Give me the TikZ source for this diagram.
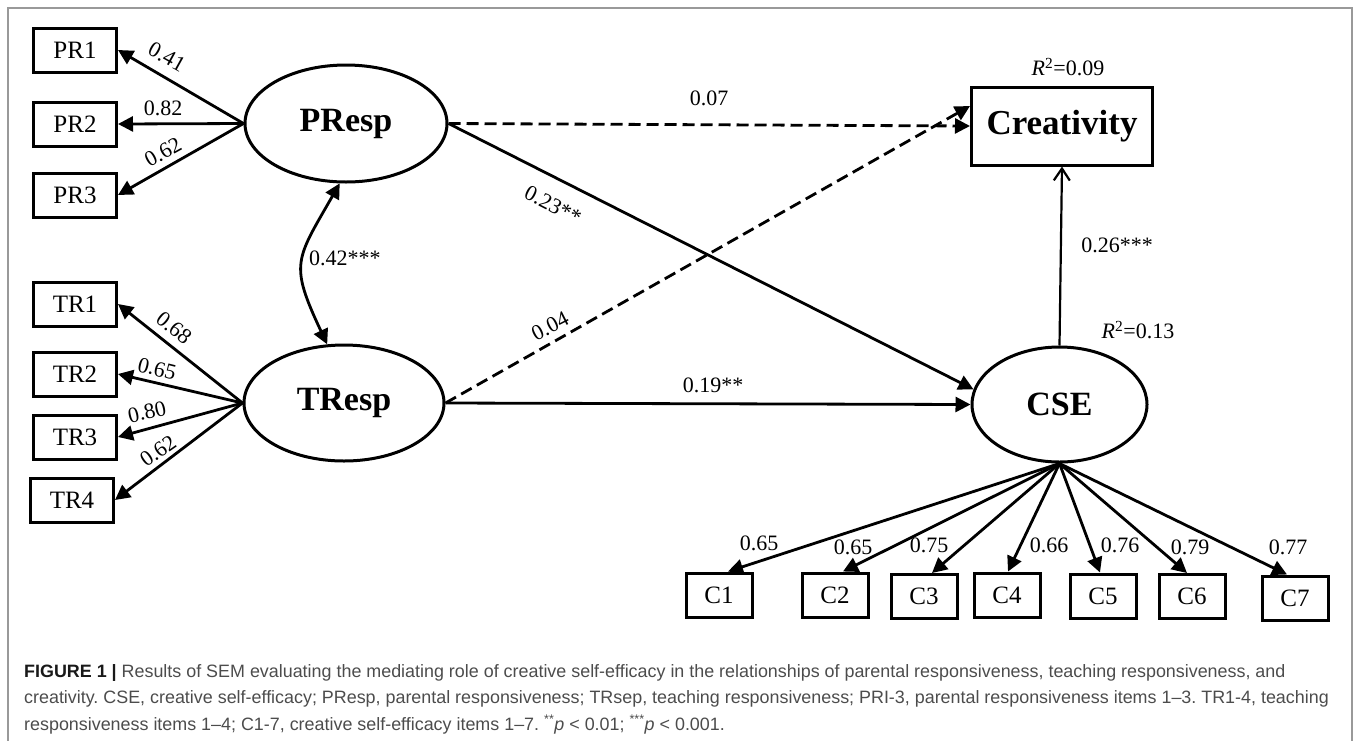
\documentclass[tikz,border=0pt]{standalone}
\usepackage{fontspec}
\setmainfont{Liberation Serif}
\setsansfont{Liberation Sans}
\usetikzlibrary{arrows.meta,shapes.geometric}

\begin{document}
\begin{tikzpicture}[x=1pt,y=-1pt,
    >={Triangle[length=15pt,width=15pt]},
    obs/.style={draw, line width=3pt, minimum width=83pt, minimum height=44pt, inner sep=0pt, font=\fontsize{25}{25}\selectfont},
    citem/.style={obs, minimum width=66pt},
    lat/.style={draw, ellipse, line width=3pt, inner sep=0pt, font=\fontsize{34}{34}\selectfont\bfseries},
    coef/.style={inner sep=0pt, font=\fontsize{22}{22}\selectfont},
    eff/.style={line width=2.8pt, ->},
    nseff/.style={eff, dash pattern=on 12pt off 6pt}]
    \useasboundingbox (0,0) rectangle (1358,740);

    % Frame
    \draw[black!40, line width=1.5pt] (8,742) -- (8,8) -- (1352,8) -- (1352,742);

    % Latent variables and outcome
    \node[lat, minimum width=202pt, minimum height=117pt] (PResp) at (346,123.5) {PResp};
    \node[lat, minimum width=200pt, minimum height=116pt] (TResp) at (344,403) {TResp};
    \node[lat, minimum width=175pt, minimum height=115pt] (CSE) at (1059.5,404.5) {CSE};
    \node[draw, line width=3pt, minimum width=181pt, minimum height=78pt, inner sep=0pt,
          font=\fontsize{35}{35}\selectfont\bfseries] (Cre) at (1062,126) {Creativity};

    % Indicators of PResp
    \foreach \i/\y in {1/50, 2/124, 3/195}
        \node[obs] (PR\i) at (75,\y) {PR\i};
    \draw[eff] (PResp.west) -- (PR1.east);
    \draw[eff] (PResp.west) -- (PR2.east);
    \draw[eff] (PResp.west) -- (PR3.east);
    \node[coef, rotate=-29] (lpr1) at (167,57) {0.41};
    \node[coef] (lpr2) at (163,108) {0.82};
    \node[coef, rotate=29] (lpr3) at (163,152) {0.62};

    % Indicators of TResp
    \foreach \i/\x/\y in {1/75/304, 2/75/374, 3/75/437, 4/72/500}
        \node[obs] (TR\i) at (\x,\y) {TR\i};
    \foreach \i in {1,...,4}
        \draw[eff] (TResp.west) -- (TR\i.east);
    \node[coef, rotate=-39] (ltr1) at (174,328) {0.68};
    \node[coef, rotate=-14] (ltr2) at (157,369) {0.65};
    \node[coef, rotate=13] (ltr3) at (147,412) {0.80};
    \node[coef, rotate=35] (ltr4) at (158,451) {0.62};

    % Correlation
    \draw[line width=2.8pt, <->] (PResp.-96) .. controls +(-44,77) and +(-38,-81) .. (TResp.106);
    \node[coef, anchor=west] (lcor) at (309,258) {0.42***};

    % Structural paths
    \draw[nseff] (PResp.east) -- (Cre.west);
    \node[coef] (lpc) at (709,98) {0.07};
    \draw[eff] (PResp.east) -- (CSE.170);
    \node[coef, rotate=-27] (lps) at (553,205) {0.23**};
    \draw[nseff] (TResp.east) -- ([yshift=20pt]Cre.west);
    \node[coef, rotate=27] (ltc) at (550,326) {0.04};
    \draw[eff] (TResp.east) -- (CSE.west);
    \node[coef] (lts) at (713,385) {0.19**};
    \draw[line width=2.2pt, -{Straight Barb[length=12pt,width=16pt]}] (CSE.north) -- (Cre.south);
    \node[coef] (lsc) at (1117,245) {0.26***};

    % R squared
    \node[coef] (r2cre) at (1068,67) {\textit{R}\textsuperscript{2}=0.09};
    \node[coef] (r2cse) at (1138,330) {\textit{R}\textsuperscript{2}=0.13};

    % Indicators of CSE
    \foreach \i/\x/\y in {1/719/595, 2/835/595, 3/924/596.5, 4/1007/595, 5/1103/596, 6/1192/596.5, 7/1295/598}
        \node[citem] (C\i) at (\x,\y) {C\i};
    \foreach \i/\s/\lx/\ly/\v in {1/9/759/543/0.65, 2/8/853/547/0.65, 3/8/929/545/0.75, 4/1/1049/545/0.66,
                                  5/-3/1120/545/0.76, 6/-5/1190/547/0.79, 7/-8/1288/547/0.77} {
        \draw[eff] (CSE.south) -- ([xshift=\s pt]C\i.north);
        \node[coef] (lc\i) at (\lx,\ly) {\v};
    }

    % Caption
    \node[anchor=north west, align=left, inner sep=0pt, text=black!70,
          font=\sffamily\fontsize{17.9}{26.5}\selectfont\frenchspacing] (caption) at (24,664) {%
        {\color{black!90}\bfseries FIGURE 1 |} Results of SEM evaluating the mediating role of creative self-efficacy in the relationships of parental responsiveness, teaching responsiveness, and\\
        creativity. CSE, creative self-efficacy; PResp, parental responsiveness; TRsep, teaching responsiveness; PRI-3, parental responsiveness items 1--3. TR1-4, teaching\\
        responsiveness items 1--4; C1-7, creative self-efficacy items 1--7. \textsuperscript{**}\textit{p} < 0.01; \textsuperscript{***}\textit{p} < 0.001.};
\end{tikzpicture}
\end{document}
